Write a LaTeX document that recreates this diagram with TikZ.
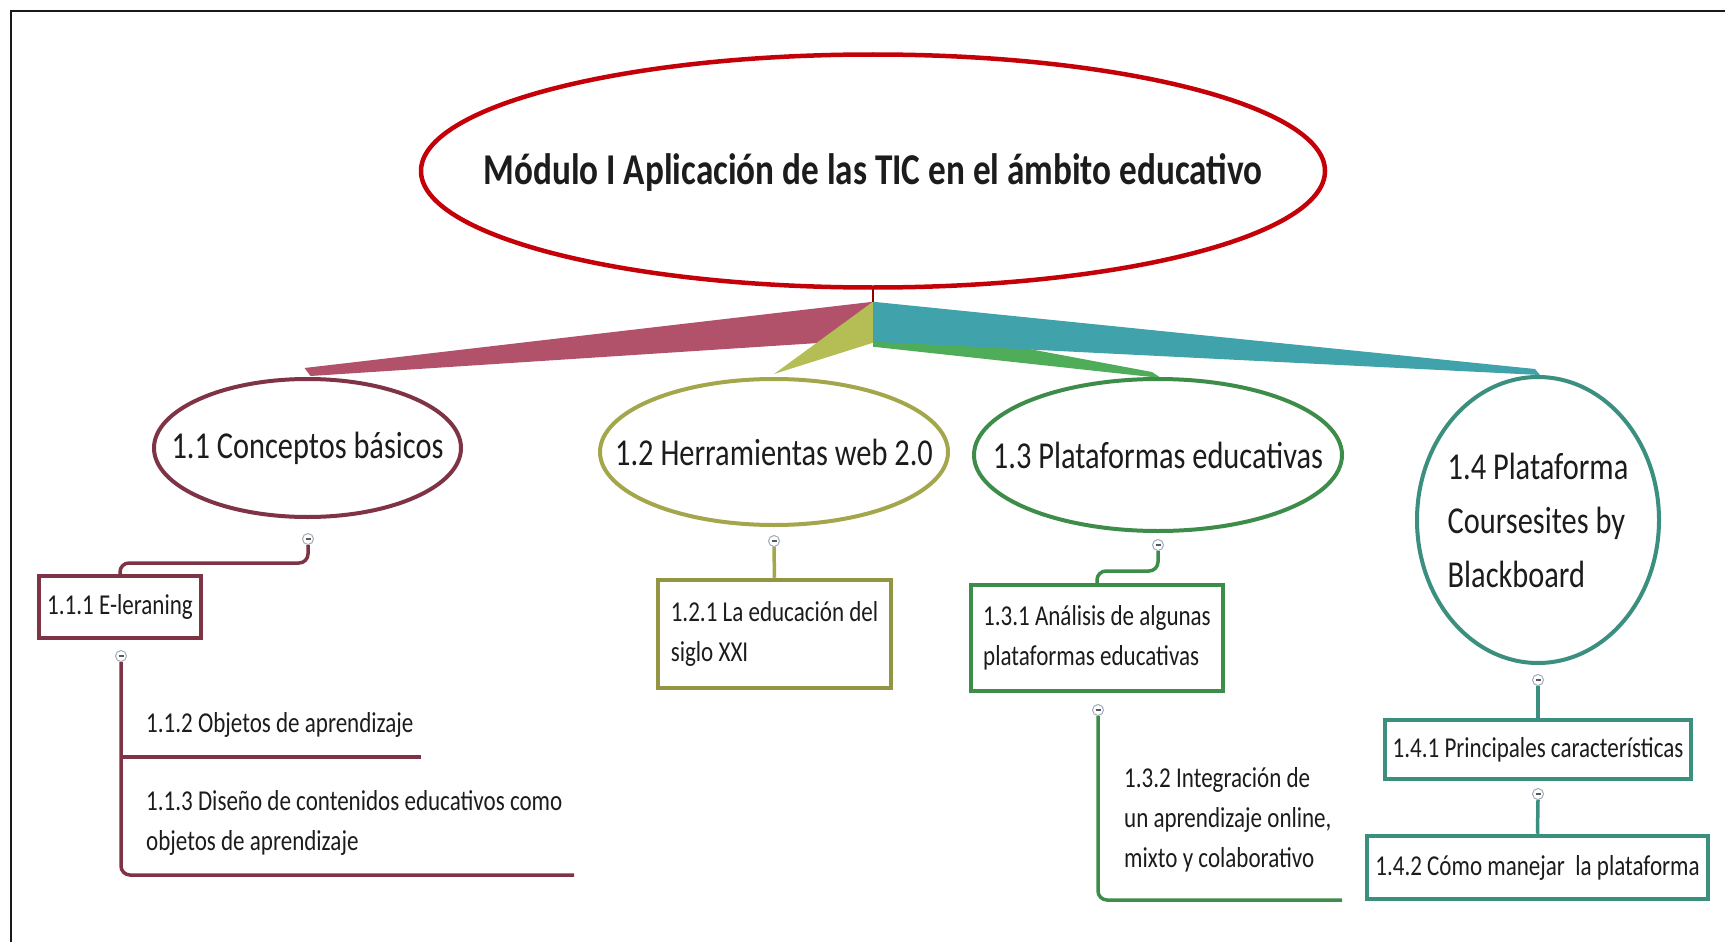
\documentclass[tikz,border=0pt]{standalone}
\usepackage{fontspec}
\setmainfont{Carlito}[FakeStretch=0.8]
\usetikzlibrary{shapes.geometric,calc}
\definecolor{cRed}{HTML}{C40008}
\definecolor{cMar}{HTML}{7E3445}
\definecolor{cOli}{HTML}{A3A64A}
\definecolor{cGrn}{HTML}{3E8C4A}
\definecolor{cTea}{HTML}{3A8F7E}
\definecolor{bMar}{HTML}{B2526A}
\definecolor{bYel}{HTML}{B5BD55}
\definecolor{bTea}{HTML}{40A2AA}
\definecolor{bGrn}{HTML}{4FAC58}
\definecolor{txt}{HTML}{1C1C1C}
\definecolor{mk}{HTML}{9FAABC}
\pgfdeclarelayer{back}
\pgfdeclarelayer{bg}
\pgfsetlayers{back,bg,main}
\tikzset{
  topic/.style={ellipse, draw, line width=4pt, inner sep=0pt},
  ttext/.style={inner sep=0pt, text=txt, font=\fontsize{38}{54}\selectfont, align=center},
  sub/.style={rectangle, draw, line width=4.5pt, inner sep=0pt, text=txt, font=\fontsize{28.8}{40}\selectfont, align=left},
  free/.style={inner sep=0pt, text=txt, font=\fontsize{28.8}{40}\selectfont, align=left},
  marker/.style={circle, draw=mk, fill=white, line width=1pt, minimum size=11pt, inner sep=0pt,
    path picture={\draw[line width=1.2pt, black!65] ($(path picture bounding box.center)+(-2.5,0)$) -- ++(5,0);}},
  conn/.style={line width=3.5pt, rounded corners=9pt},
}
\begin{document}
\begin{tikzpicture}[x=1pt,y=-1pt]
\useasboundingbox (0,0) rectangle (1725,942);
\begin{pgfonlayer}{back}
\fill[white] (0,0) rectangle (1725,942);
\draw[line width=2pt, black!90] (11,942) -- (11,11) -- (1725,11);
\end{pgfonlayer}

% central topic
\node[ellipse, draw=cRed, line width=4.5pt, minimum width=904pt, minimum height=233pt, inner sep=0pt] (main) at (873,171) {};
\node[inner sep=0pt, text=txt, font=\fontsize{44}{52}\selectfont\bfseries] (tmain) at ($(main.center)+(0,1)$) {Módulo I Aplicación de las TIC en el ámbito educativo};

% main topics
\node[topic, draw=cMar, minimum width=307pt, minimum height=138pt] (c11) at (307.5,448) {};
\node[topic, draw=cOli, minimum width=348pt, minimum height=146pt] (c12) at (774,452) {};
\node[topic, draw=cGrn, minimum width=368pt, minimum height=152pt] (c13) at (1158,455) {};
\node[topic, draw=cTea, minimum width=242pt, minimum height=286pt] (c14) at (1538,520) {};
\node[ttext] (t11) at (c11.center) {1.1 Conceptos básicos};
\node[ttext] (t12) at (c12.center) {1.2 Herramientas web 2.0};
\node[ttext] (t13) at (c13.center) {1.3 Plataformas educativas};
\node[ttext, align=left] (t14) at (c14.center) {1.4 Plataforma\\Coursesites by\\Blackboard};

% tapered branches
\coordinate (R) at ($(main.south)+(0,12)$);
\begin{pgfonlayer}{bg}
\fill[bMar] (R) -- ($(R)+(-51,41)$) -- ($(c11.north)+(3,-1)$) -- ($(c11.north)+(-3,-9)$) -- cycle;
\fill[bYel] (R) -- ($(R)+(0,41)$) -- ($(c12.north)+(0,-3)$) -- cycle;
\fill[bGrn] ($(R)+(0,18)$) -- ($(c13.north)+(-6,-5)$) -- ($(c13.north)+(3,1)$) -- ($(R)+(0,45)$) -- cycle;
\fill[bTea] (R) -- ($(c14.north)+(-3,-6)$) -- ($(c14.north)+(2,0)$) -- ($(R)+(0,40)$) -- cycle;
\draw[line width=1.5pt, cRed!70!black] (main.south) -- (R);
\end{pgfonlayer}

% subtopics
\node[sub, draw=cMar, minimum width=162pt, minimum height=62pt] (b111) at (120,607) {1.1.1 E-leraning};
\node[sub, draw=cOli!90!black, minimum width=233pt, minimum height=108pt] (b121) at (774.5,634) {1.2.1 La educación del\\siglo XXI};
\node[sub, draw=cGrn, minimum width=252pt, minimum height=106pt] (b131) at (1097,638) {1.3.1 Análisis de algunas\\plataformas educativas};
\node[sub, draw=cTea, minimum width=306pt, minimum height=59pt] (b141) at (1538,749.5) {1.4.1 Principales características};
\node[sub, draw=cTea, minimum width=341pt, minimum height=63pt] (b142) at (1537.5,867.5) {1.4.2 Cómo manejar\ \ la plataforma};

\node[free, anchor=north west] (n112) at (146,712) {1.1.2 Objetos de aprendizaje};
\node[free, anchor=north west] (n113) at (146,790) {1.1.3 Diseño de contenidos educativos como\\objetos de aprendizaje};
\node[free, anchor=north west] (n132) at (1124,767) {1.3.2 Integración de\\un aprendizaje online,\\mixto y colaborativo};

% collapse markers
\node[marker] (m11) at (308,539) {};
\node[marker] (m12) at (774,541) {};
\node[marker] (m13) at (1158,545) {};
\node[marker] (m14) at (1538,680) {};
\node[marker] (m111) at (121,656) {};
\node[marker] (m131) at (1098,710) {};
\node[marker] (m141) at (1538,794) {};

% connectors
\coordinate (u112) at (421,757);
\coordinate (u113) at (574,875);
\coordinate (u132) at (1342,900);
\draw[conn, cMar] (m11.south) -- ++(0,18) -| (b111.north);
\draw[conn, cMar] (m111.south) |- (u113);
\draw[conn, cMar] (m111.south |- u112) -- (u112);
\draw[conn, cOli] (m12.south) -- (b121.north);
\draw[conn, cGrn] (m13.south) -- ++(0,20) -| (b131.north);
\draw[conn, cGrn] (m131.south) |- (u132);
\draw[conn, cTea] (m14.south) -- (b141.north);
\draw[conn, cTea] (m141.south) -- (b142.north);
\end{tikzpicture}
\end{document}
